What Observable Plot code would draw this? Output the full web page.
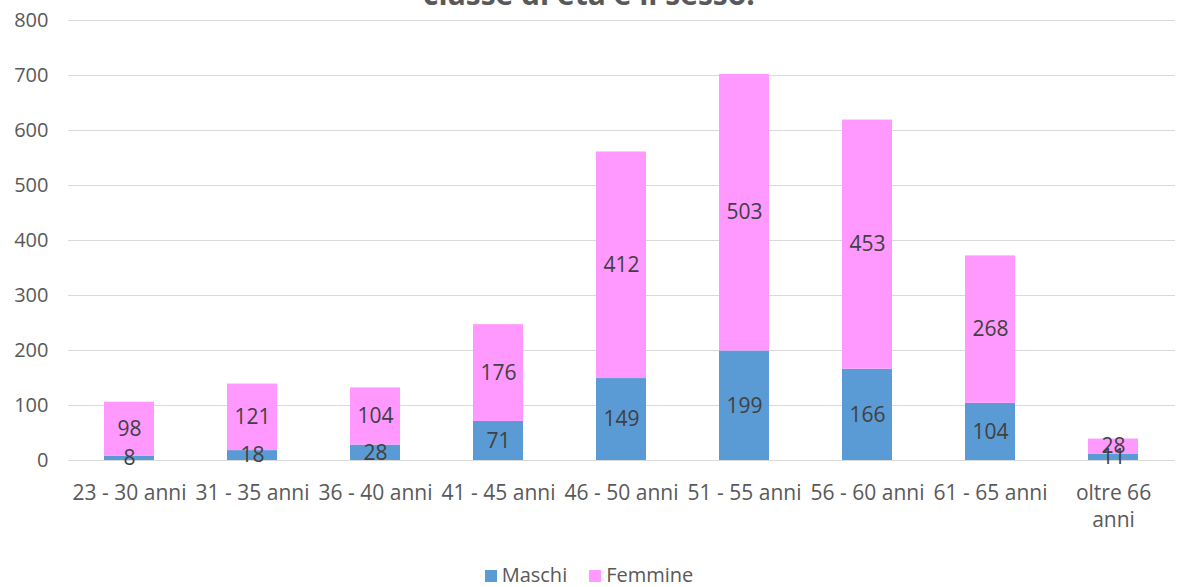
<!DOCTYPE html>
<html>
<head>
<meta charset="utf-8">
<script src="https://cdn.jsdelivr.net/npm/d3@7"></script>
<script src="https://cdn.jsdelivr.net/npm/@observablehq/plot@0.6"></script>
<style>
  html, body { margin: 0; padding: 0; background: #fff; overflow: hidden; }
  body { width: 1178px; height: 587px; position: relative; font-family: "Open Sans", sans-serif; }
  #title { position: absolute; left: 0; width: 1178px; top: -21px; line-height: 30px; text-align: center; font-weight: bold; font-size: 30px; color: #595959; }
  #chart { position: absolute; left: 0; top: 0; }
  #legend { position: absolute; left: 0; width: 1178px; top: 561px; text-align: center; font-size: 20px; color: #595959; }
  #legend span.sw { display: inline-block; width: 12px; height: 12px; margin-right: 5px; vertical-align: 0px; }
  #legend span.item { margin: 0 11px; }
</style>
</head>
<body>
<div id="title">classe di età e il sesso.</div>
<div id="chart"></div>
<div id="legend"></div>
<script>
const categories = ["23 - 30 anni", "31 - 35 anni", "36 - 40 anni", "41 - 45 anni", "46 - 50 anni", "51 - 55 anni", "56 - 60 anni", "61 - 65 anni", "oltre 66 anni"];
const tickLabels = ["23 - 30 anni", "31 - 35 anni", "36 - 40 anni", "41 - 45 anni", "46 - 50 anni", "51 - 55 anni", "56 - 60 anni", "61 - 65 anni", "oltre 66\nanni"];
const maschi = [8, 18, 28, 71, 149, 199, 166, 104, 11];
const femmine = [98, 121, 104, 176, 412, 503, 453, 268, 28];
const series = ["Maschi", "Femmine"];
const colors = ["#5B9BD5", "#FF99FF"];
const yTicks = [0, 100, 200, 300, 400, 500, 600, 700, 800];

const data = categories.flatMap((c, i) => [
  {cat: c, sex: "Maschi", v: maschi[i]},
  {cat: c, sex: "Femmine", v: femmine[i]}
]);
const labelOf = new Map(categories.map((c, i) => [c, tickLabels[i]]));

const chart = Plot.plot({
  width: 1178,
  height: 560,
  marginLeft: 68,
  marginRight: 3,
  marginTop: 20,
  marginBottom: 100,
  style: {fontSize: "20px", fontFamily: "Open Sans, sans-serif", color: "#595959", background: "transparent"},
  x: {domain: categories, paddingInner: 0.59, paddingOuter: 0.295, label: null},
  y: {domain: [0, 800], label: null},
  color: {domain: series, range: colors},
  marks: [
    Plot.gridY(yTicks, {stroke: "#d9d9d9", strokeOpacity: 1, strokeWidth: 1}),
    Plot.barY(data, {x: "cat", y: "v", fill: "sex"}),
    Plot.text(data, Plot.stackY({x: "cat", y: "v", z: "sex", text: d => String(d.v), fill: "#404040", fontSize: 21})),
    Plot.axisY({ticks: yTicks, tickSize: 0, tickPadding: 20, label: null}),
    Plot.axisX({tickSize: 0, tickPadding: 20, label: null, tickFormat: d => labelOf.get(d), lineHeight: 1.3, fontSize: 21})
  ]
});
document.getElementById("chart").appendChild(chart);

const legend = document.getElementById("legend");
series.forEach((s, i) => {
  const item = document.createElement("span");
  item.className = "item";
  const sw = document.createElement("span");
  sw.className = "sw";
  sw.style.background = colors[i];
  item.appendChild(sw);
  item.appendChild(document.createTextNode(s));
  legend.appendChild(item);
});
</script>
</body>
</html>
